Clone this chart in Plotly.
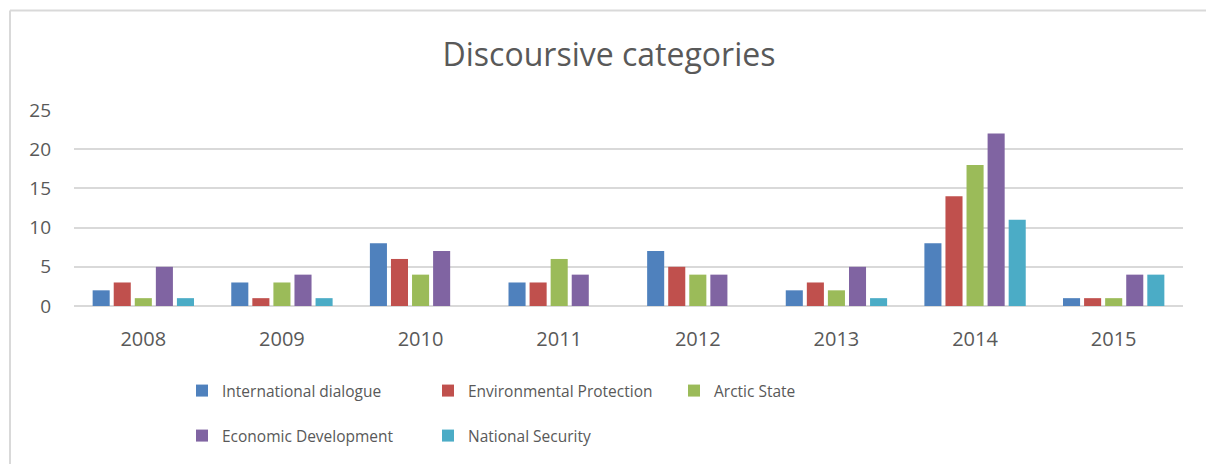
import plotly.graph_objects as go

years = ["2008", "2009", "2010", "2011", "2012", "2013", "2014", "2015"]
international_dialogue = [2, 3, 8, 3, 7, 2, 8, 1]
environmental_protection = [3, 1, 6, 3, 5, 3, 14, 1]
arctic_state = [1, 3, 4, 6, 4, 2, 18, 1]
economic_development = [5, 4, 7, 4, 4, 5, 22, 4]
national_security = [1, 1, 0, 0, 0, 1, 11, 4]

series = [
    ("International dialogue", international_dialogue, "#4F81BD", "legend"),
    ("Environmental Protection", environmental_protection, "#C0504D", "legend"),
    ("Arctic State", arctic_state, "#9BBB59", "legend"),
    ("Economic Development", economic_development, "#8064A2", "legend2"),
    ("National Security", national_security, "#4BACC6", "legend2"),
]

W, H = 1206, 464
L, R, T, B = 74, 23, 110, 157
pw, ph = W - L - R, H - T - B
FONT = "Open Sans, Lato, sans-serif"
GREY = "#595959"

fig = go.Figure()
for name, vals, col, lg in series:
    fig.add_trace(go.Bar(x=years, y=vals, name=name, legend=lg,
                         marker=dict(color=col, line=dict(width=0))))

def px_x(p):
    return (p - L) / pw

def px_y(p):
    return (H - B - p) / ph

legend_common = dict(orientation="h", xanchor="left", yanchor="middle",
                     entrywidth=201, entrywidthmode="pixels",
                     font=dict(size=15.5, color=GREY, family=FONT),
                     itemwidth=30, traceorder="normal", bgcolor="rgba(0,0,0,0)")

fig.update_layout(
    width=W, height=H,
    margin=dict(l=L, r=R, t=T, b=B),
    paper_bgcolor="white", plot_bgcolor="white",
    font=dict(family=FONT, color=GREY, size=16),
    title=dict(text="Discoursive categories", x=px_x(609), xanchor="center", xref="paper",
               y=1 - 55 / H, yanchor="middle",
               font=dict(size=32, color=GREY, family=FONT)),
    barmode="group", bargap=0.24, bargroupgap=0.19,
    xaxis=dict(showgrid=False, showline=False, ticks="", tickfont=dict(size=20), ticklabelstandoff=19),
    yaxis=dict(range=[0, 25], dtick=5, showgrid=True, gridcolor="#D9D9D9", gridwidth=1.5,
               zeroline=True, zerolinecolor="#D9D9D9", zerolinewidth=1.5,
               showline=False, ticks="", tickfont=dict(size=19), ticklabelstandoff=22),
    legend=dict(x=px_x(182), y=px_y(391), **legend_common),
    legend2=dict(x=px_x(182), y=px_y(436), **legend_common),
    showlegend=True,
    shapes=[
        dict(type="line", xref="paper", yref="paper", x0=px_x(10), x1=px_x(10), y0=px_y(10), y1=px_y(470),
             line=dict(color="#D9D9D9", width=2)),
        dict(type="line", xref="paper", yref="paper", x0=px_x(10), x1=px_x(1210), y0=px_y(10), y1=px_y(10),
             line=dict(color="#D9D9D9", width=2)),
    ],
)

fig.write_html("out.html", config={"displayModeBar": False},
               post_script="document.body.style.margin='0';")
